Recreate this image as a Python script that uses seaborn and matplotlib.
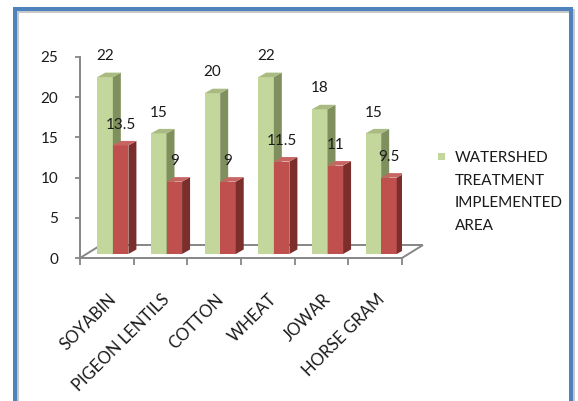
import matplotlib
matplotlib.use("Agg")
import matplotlib.pyplot as plt
from matplotlib.patches import Polygon, Rectangle
from matplotlib.transforms import ScaledTranslation
import seaborn as sns
import pandas as pd

# ---- data -------------------------------------------------------------
crops = ["SOYABIN", "PIGEON LENTILS", "COTTON", "WHEAT", "JOWAR", "HORSE GRAM"]
treated_area = [22, 15, 20, 22, 18, 15]
second_area = [13.5, 9, 9, 11.5, 11, 9.5]
series_names = ["WATERSHED TREATMENT IMPLEMENTED AREA", "SECOND SERIES"]
legend_text = "WATERSHED\nTREATMENT\nIMPLEMENTED\nAREA"
y_ticks = [0, 5, 10, 15, 20, 25]

# ---- style ------------------------------------------------------------
sns.set_theme(style="white")
plt.rcParams["font.family"] = ["Lato", "DejaVu Sans"]
TEXT = "#1a1a1a"
AXIS = "#868686"
front_colors = {series_names[0]: "#C3D69B", series_names[1]: "#C0504D"}
side_colors = {series_names[0]: "#808F5E", series_names[1]: "#7B2E2C"}
top_colors = {series_names[0]: "#A9BB82", series_names[1]: "#C76562"}

df = pd.DataFrame({
    "crop": crops * 2,
    "area": treated_area + second_area,
    "series": [series_names[0]] * len(crops) + [series_names[1]] * len(crops),
})

W, H = 578, 401
fig = plt.figure(figsize=(W / 100, H / 100), dpi=100)
ax = fig.add_axes([80 / W, (H - 258) / H, 322 / W, 201 / H])

sns.barplot(data=df, x="crop", y="area", hue="series", palette=front_colors,
            width=0.58, saturation=1, legend=False, linewidth=0, ax=ax)

ax.set_xlim(-0.5, len(crops) - 0.5)
ax.set_ylim(0, 25)

# pixel -> data conversion for the pseudo-3D depth
bbox = ax.get_window_extent()
sx = bbox.width / (len(crops))
sy = bbox.height / 25.0

def px(dx, dy):
    return dx / sx, dy / sy

shift_x, shift_y = px(6, 4)      # bars sit a little behind the front edge
depth_x, depth_y = px(8, 4.5)    # bar depth
floor_x, floor_y = px(21, 13)    # floor depth

for i, (name, container) in enumerate(zip(series_names, ax.containers)):
    z = 2 + i
    values = list(container.datavalues)
    for bar in container:
        bar.set_x(bar.get_x() + shift_x)
        bar.set_y(bar.get_y() + shift_y)
        bar.set_zorder(z)
        x0, y0 = bar.get_x(), bar.get_y()
        x1, y1 = x0 + bar.get_width(), y0 + bar.get_height()
        side = Polygon([(x1, y0), (x1 + depth_x, y0 + depth_y),
                        (x1 + depth_x, y1 + depth_y), (x1, y1)],
                       closed=True, facecolor=side_colors[name],
                       edgecolor="none", zorder=z + 0.1)
        top = Polygon([(x0, y1), (x1, y1), (x1 + depth_x, y1 + depth_y),
                       (x0 + depth_x, y1 + depth_y)],
                      closed=True, facecolor=top_colors[name],
                      edgecolor="none", zorder=z + 0.1)
        ax.add_patch(side)
        ax.add_patch(top)
    labels = ax.bar_label(container, labels=[f"{v:g}" for v in values],
                          padding=10, fontsize=11, color=TEXT)
    for t in labels:
        t.set_zorder(10)

# floor outline
x_left, x_right = -0.5, len(crops) - 0.5
floor_kw = dict(color=AXIS, lw=1.4, clip_on=False, zorder=1,
                solid_capstyle="butt")
ax.plot([x_left, x_left + floor_x], [0, floor_y], **floor_kw)
ax.plot([x_left + floor_x, x_right + floor_x], [floor_y, floor_y], **floor_kw)
ax.plot([x_right + floor_x, x_right], [floor_y, 0], **floor_kw)

# axes and ticks
for s in ["top", "right"]:
    ax.spines[s].set_visible(False)
for s in ["left", "bottom"]:
    ax.spines[s].set_color(AXIS)
    ax.spines[s].set_linewidth(1.4)
ax.set_xlabel("")
ax.set_ylabel("")
ax.set_yticks(y_ticks)
ax.set_yticklabels([str(v) for v in y_ticks])
ax.tick_params(axis="y", which="major", direction="out", length=3.6,
               width=1.3, color=AXIS, pad=12, labelsize=11, labelcolor=TEXT,
               left=True)
ax.set_xticks(range(len(crops)))
ax.set_xticks([i - 0.5 for i in range(len(crops) + 1)], minor=True)
ax.set_xticklabels(crops, rotation=45, ha="right", rotation_mode="anchor")
ax.tick_params(axis="x", which="major", length=0, pad=24, labelsize=12,
               labelcolor=TEXT)
ax.tick_params(axis="x", which="minor", direction="out", length=5,
               width=1.3, color=AXIS, bottom=True)
offset = ScaledTranslation(1 / 100, 0, fig.dpi_scale_trans)
for lab in ax.get_xticklabels():
    lab.set_transform(lab.get_transform() + offset)
ax.grid(False)
ax.set_facecolor("none")

# legend (single entry, wrapped label)
fig.add_artist(Rectangle((438 / W, 1 - 160 / H), 7 / W, 7 / H,
                         transform=fig.transFigure,
                         facecolor=front_colors[series_names[0]],
                         edgecolor="none"))
fig.text(455 / W, 1 - 151 / H, legend_text, ha="left", va="top",
         fontsize=11, color=TEXT, linespacing=1.78)

# chart frame
fig.add_artist(Rectangle((17 / W, -0.1), 556 / W, 1.1 - 11 / H,
                         transform=fig.transFigure, fill=False,
                         edgecolor="#C8C8C8", linewidth=2.9))
fig.add_artist(Rectangle((15 / W, -0.1), 556 / W, 1.1 - 9 / H,
                         transform=fig.transFigure, fill=False,
                         edgecolor="#4F81BD", linewidth=2.9))

fig.savefig("out.png", dpi=100)
